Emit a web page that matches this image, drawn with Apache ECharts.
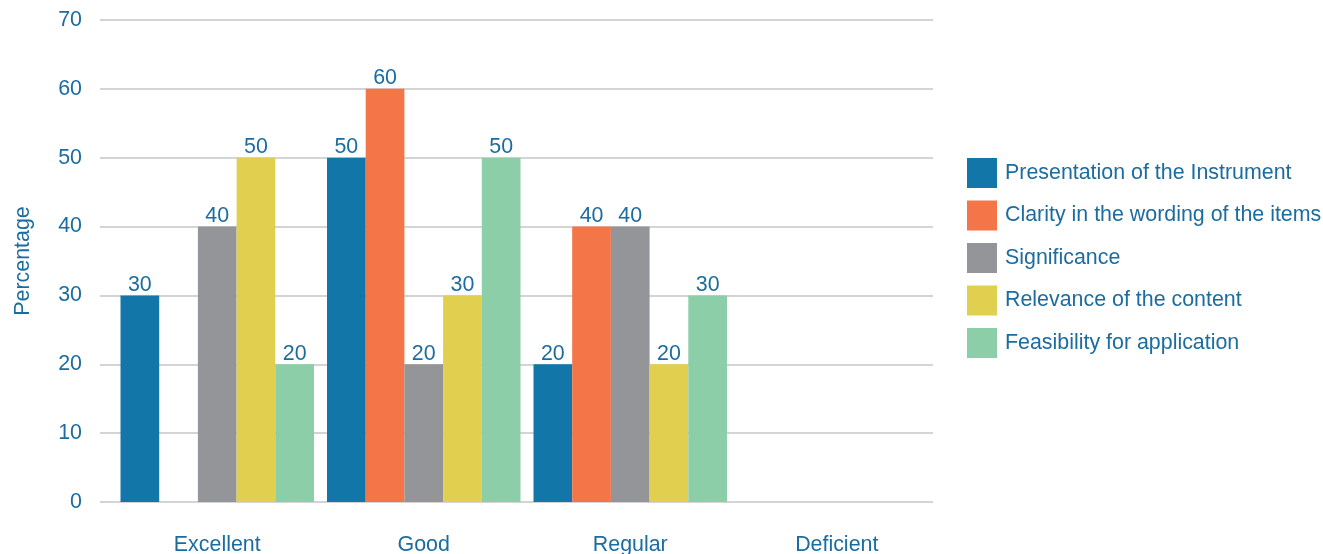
<!DOCTYPE html>
<html>
<head>
<meta charset="utf-8">
<script src="https://cdn.jsdelivr.net/npm/echarts@6/dist/echarts.min.js"></script>
<style>
  html, body { margin: 0; padding: 0; background: #fff; }
  #chart { width: 1323px; height: 554px; }
</style>
</head>
<body>
<div id="chart"></div>
<script>
// categories and series values
const categories = ['Excellent', 'Good', 'Regular', 'Deficient'];
const seriesNames = [
  'Presentation of the Instrument',
  'Clarity in the wording of the items',
  'Significance',
  'Relevance of the content',
  'Feasibility for application'
];
const presentation = [30, 50, 20, null];
const clarity = [null, 60, 40, null];
const significance = [40, 20, 40, null];
const relevance = [50, 30, 20, null];
const feasibility = [20, 50, 30, null];
const yTicks = [0, 10, 20, 30, 40, 50, 60, 70];

const colors = ['#1276a8', '#f47548', '#939598', '#e1cf4f', '#8bcea8'];
const textColor = '#1b6c9f';
const font = 'Liberation Sans, Arial, sans-serif';
const fs = 21.4;

const allValues = [presentation, clarity, significance, relevance, feasibility];

let myChart = echarts.init(document.getElementById('chart'));

const series = seriesNames.map((name, i) => ({
  name: name,
  type: 'bar',
  xAxisIndex: 1,
  yAxisIndex: 1,
  barWidth: 38.7,
  barGap: 0,
  itemStyle: { color: colors[i] },
  label: {
    show: true,
    position: 'top',
    distance: 0,
    color: textColor,
    fontSize: fs,
    fontFamily: font
  },
  data: allValues[i]
}));

const option = {
  animation: false,
  color: colors,
  legend: {
    orient: 'vertical',
    left: 967,
    top: 158,
    padding: 0,
    itemWidth: 30,
    itemHeight: 30,
    itemGap: 12.5,
    icon: 'rect',
    textStyle: {
      color: textColor,
      fontSize: fs,
      fontFamily: font,
      padding: [2, 0, 0, 3]
    },
    data: seriesNames
  },
  grid: [
    // grid for y ticks and gridlines
    { left: 100, right: 390, top: 20, bottom: 52, outerBoundsMode: 'none' },
    // grid for the bars and category labels
    { left: 114, right: 383, top: 20, bottom: 52, outerBoundsMode: 'none' }
  ],
  xAxis: [
    { gridIndex: 0, type: 'value', show: false },
    {
      gridIndex: 1,
      type: 'category',
      data: categories,
      axisLine: { show: false },
      axisTick: { show: false },
      axisLabel: {
        color: textColor,
        fontSize: fs,
        fontFamily: font,
        margin: 33
      }
    }
  ],
  yAxis: [
    {
      gridIndex: 0,
      type: 'value',
      min: yTicks[0],
      max: yTicks[yTicks.length - 1],
      interval: 10,
      name: 'Percentage',
      nameLocation: 'middle',
      nameGap: 66,
      nameTextStyle: { color: textColor, fontSize: fs, fontFamily: font },
      axisLine: { show: false },
      axisTick: { show: false },
      axisLabel: { color: textColor, fontSize: fs, fontFamily: font, margin: 18 },
      splitLine: { lineStyle: { color: '#c6c6c8', width: 1.5 } }
    },
    {
      gridIndex: 1,
      type: 'value',
      min: yTicks[0],
      max: yTicks[yTicks.length - 1],
      interval: 10,
      show: false,
      splitLine: { show: false }
    }
  ],
  series: series
};

myChart.setOption(option);
window.onresize = myChart.resize;
</script>
</body>
</html>
